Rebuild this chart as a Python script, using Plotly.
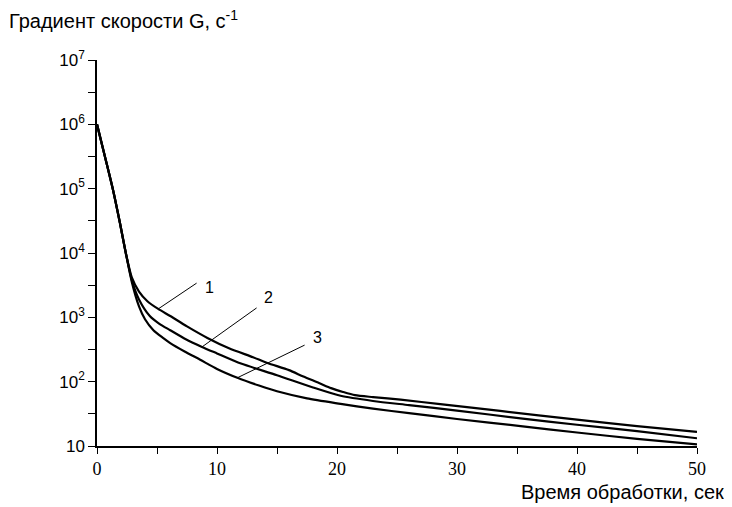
import math
import plotly.graph_objects as go

# Curve data: time (s) and velocity gradient G (1/s)
x1 = [0, 0.7, 1.35, 1.9, 2.4, 2.9, 3.5, 4.2, 5.1, 6.1, 7.5, 9.2, 11, 13, 14.2, 16, 17.2, 18.5, 19.5, 20.5, 21.5, 23, 25.3, 28.6, 33.6, 40, 45, 50]
y1 = [1e6, 2.95e5, 9.3e4, 3.0e4, 1e4, 4170, 2510, 1780, 1350, 1050, 724, 479, 331, 240, 195, 151, 120, 95.5, 79.4, 69.2, 61.7, 57.5, 52.5, 44.7, 35.1, 25.7, 20.4, 16.6]

x2 = [0, 0.7, 1.35, 1.9, 2.4, 2.9, 3.5, 4.4, 5.2, 6.1, 7.4, 8.75, 10, 12, 15, 18, 20.3, 23, 26, 30, 35.3, 40, 45, 50]
y2 = [1e6, 2.95e5, 9.3e4, 3.0e4, 1e4, 3800, 1900, 1050, 794, 631, 457, 347, 275, 191, 126, 81.3, 60.3, 50.1, 43.2, 35.5, 26.9, 21.4, 17.0, 13.2]

x3 = [0, 0.7, 1.35, 1.9, 2.4, 2.9, 3.5, 4.0, 4.7, 5.5, 6.1, 7.3, 8.6, 10, 11.7, 13.5, 15, 17.5, 20.3, 23, 26, 30, 35.3, 40, 45, 50]
y3 = [1e6, 2.95e5, 9.3e4, 3.0e4, 1e4, 3550, 1480, 933, 631, 479, 398, 295, 219, 158, 115, 87.1, 70.8, 55.0, 45.2, 38.0, 32.4, 26.3, 20.4, 16.2, 12.9, 10.6]

curve_names = ["1", "2", "3"]

# Leader lines (from curve to label) and label positions
lead_x = [[5.1, 8.3], [8.75, 13.3], [11.7, 17.3]]
lead_y = [[1.35e3, 3.4e3], [3.47e2, 1.4e3], [1.15e2, 3.7e2]]
label_x = [9.4, 14.25, 18.4]
label_y = [2.95e3, 2.0e3, 4.8e2]

# Axis ticks
x_tickvals = [0, 5, 10, 15, 20, 25, 30, 35, 40, 45, 50]
x_ticktext = ["0", "", "10", "", "20", "", "30", "", "40", "", "50"]
y_exps = [1, 2, 3, 4, 5, 6, 7]
y_tickvals = []
y_ticktext = []
for e in y_exps:
    y_tickvals.append(10 ** e)
    y_ticktext.append("10" if e == 1 else "10<sup>%d</sup>" % e)
    if e < 7:
        y_tickvals.append(10 ** (e + 0.5))
        y_ticktext.append("")

fig = go.Figure()
for xs, ys, nm in zip([x1, x2, x3], [y1, y2, y3], curve_names):
    fig.add_trace(go.Scatter(x=xs, y=ys, mode="lines", name=nm,
                             line=dict(color="black", width=2.2, shape="spline", smoothing=0.7),
                             showlegend=False, hoverinfo="skip"))

for lx, ly in zip(lead_x, lead_y):
    fig.add_trace(go.Scatter(x=lx, y=ly, mode="lines", line=dict(color="black", width=1),
                             showlegend=False, hoverinfo="skip"))

for nm, tx, ty in zip(curve_names, label_x, label_y):
    fig.add_annotation(x=tx, y=math.log10(ty), text=nm, showarrow=False,
                       font=dict(family="Liberation Sans, Arial", size=16, color="black"))

fig.add_annotation(xref="paper", yref="paper", x=0, y=1.0, xshift=-90, yshift=41, xanchor="left",
                   yanchor="middle", showarrow=False,
                   text="Градиент скорости G, с<sup>-1</sup>",
                   font=dict(family="Liberation Sans, Arial", size=20, color="black"))
fig.add_annotation(xref="paper", yref="paper", x=1.0, y=0, xshift=29, yshift=-46, xanchor="right",
                   yanchor="middle", showarrow=False,
                   text="Время обработки, сек",
                   font=dict(family="Liberation Sans, Arial", size=20, color="black"))

fig.update_layout(
    width=732, height=507,
    margin=dict(l=89, r=43, t=52, b=69),
    plot_bgcolor="white", paper_bgcolor="white",
    xaxis=dict(range=[0, 50], tickmode="array", tickvals=x_tickvals, ticktext=x_ticktext,
               showgrid=False, zeroline=False, showline=True, linecolor="black", linewidth=1.5,
               ticks="outside", ticklen=6, tickwidth=1.2, tickcolor="black",
               tickfont=dict(family="Liberation Serif, Times New Roman", size=18, color="black")),
    yaxis=dict(type="log", range=[1, 7], tickmode="array", tickvals=y_tickvals, ticktext=y_ticktext,
               showgrid=False, zeroline=False, showline=True, linecolor="black", linewidth=1.5,
               ticks="outside", ticklen=7, tickwidth=1.2, tickcolor="black",
               tickfont=dict(family="Liberation Sans, Arial", size=17, color="black")),
)

fig.write_html("out.html")
